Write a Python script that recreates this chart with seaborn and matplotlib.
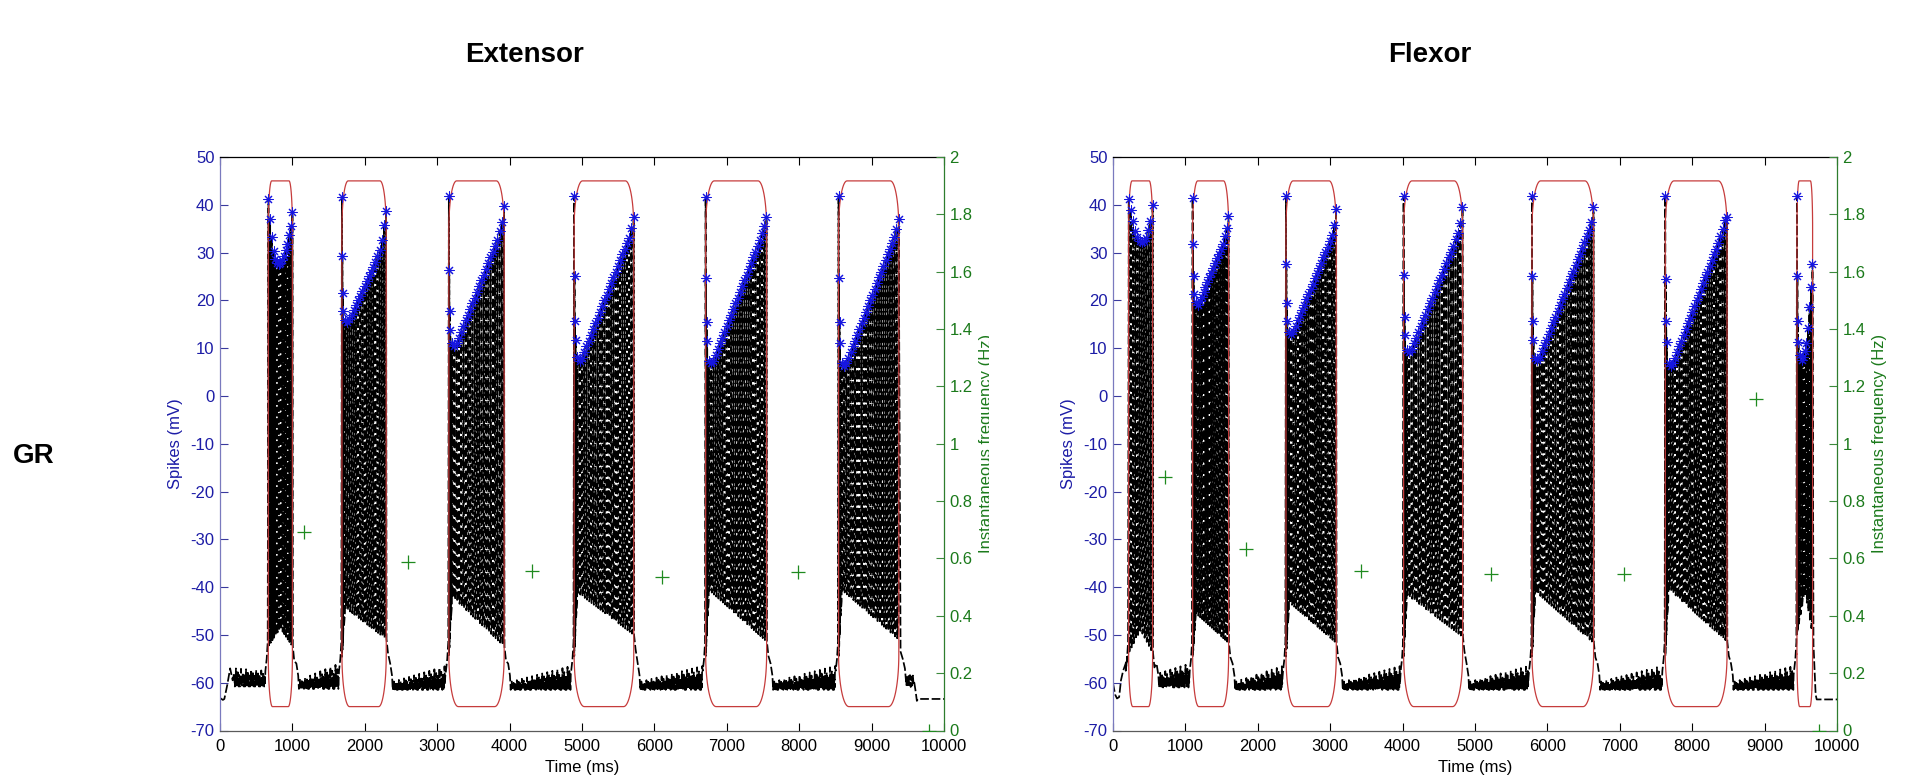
import numpy as np
import pandas as pd
import matplotlib
matplotlib.use("Agg")
import matplotlib.pyplot as plt
import seaborn as sns
from matplotlib.transforms import Bbox, TransformedBbox

sns.set_theme(style="white")
plt.rcParams['font.family'] = ['Liberation Sans', 'DejaVu Sans']

# ---------------- axes ticks ----------------
time_ticks = list(range(0, 10001, 1000))
mv_ticks = list(range(-70, 51, 10))
hz_ticks = [0.0, 0.2, 0.4, 0.6, 0.8, 1.0, 1.2, 1.4, 1.6, 1.8, 2.0]
hz_tick_labels = ['0', '0.2', '0.4', '0.6', '0.8', '1', '1.2', '1.4', '1.6', '1.8', '2']

# ---------------- Extensor ----------------
ext_onsets = [667, 1684, 3161, 4891, 6708, 8544]
ext_offsets = [1000, 2296, 3925, 5715, 7550, 9376]
ext_quick = [1, 4, 4, 4, 4, 4]          # spikes in the opening high-frequency cluster
ext_dome = [True, False, False, False, False, False]
ext_peaks = [
    [41.2, 37.0, 33.2, 30.4, 28.6, 27.9, 27.7, 27.9, 28.4, 29.3, 30.5, 31.8, 33.7, 35.6, 38.4],
    [41.6, 29.3, 21.5, 17.7, 15.8, 15.4, 16.0, 17.0, 18.0, 19.0, 20.0, 21.0, 22.0, 23.0,
     24.0, 25.0, 26.0, 27.0, 28.0, 29.2, 30.6, 32.7, 35.8, 38.8],
    [41.9, 26.4, 17.8, 13.9, 11.0, 10.4, 11.0, 12.2, 13.4, 14.6, 15.8, 17.0, 18.2, 19.4,
     20.6, 21.8, 23.0, 24.2, 25.4, 26.6, 27.8, 29.0, 30.2, 31.4, 32.7, 34.6, 36.5, 39.7],
    [41.8, 25.2, 15.7, 11.8, 8.2, 7.4, 8.0, 9.2, 10.4, 11.6, 12.8, 14.0, 15.2, 16.4, 17.6,
     18.8, 20.0, 21.2, 22.4, 23.6, 24.8, 26.0, 27.2, 28.4, 29.6, 30.8, 32.0, 33.0, 35.1, 37.4],
    [41.6, 24.6, 15.4, 11.4, 7.4, 6.8, 7.4, 8.6, 9.8, 11.0, 12.2, 13.4, 14.6, 15.8, 17.0,
     18.2, 19.4, 20.6, 21.8, 23.0, 24.2, 25.4, 26.6, 27.8, 29.0, 30.2, 31.4, 32.6, 34.0, 35.5, 37.5],
    [41.8, 24.6, 15.5, 11.0, 7.0, 6.2, 6.8, 8.0, 9.2, 10.4, 11.6, 12.8, 14.0, 15.2, 16.4,
     17.6, 18.8, 20.0, 21.2, 22.4, 23.6, 24.8, 26.0, 27.2, 28.4, 29.6, 30.8, 32.0, 33.3, 35.0, 37.0],
]
# trough envelope per burst: (start, top, end) in mV
ext_trough = [(-52.4, -48.6, -52.4), (-55.0, -44.3, -50.9), (-55.0, -42.0, -52.4),
              (-55.0, -41.1, -50.0), (-55.0, -40.6, -51.4), (-55.0, -40.6, -51.0)]
# resting band before each burst: (floor, ceiling at start, ceiling at end)
ext_rest = [(-60.8, -57.0, -57.5), (-61.3, -59.5, -56.0), (-61.5, -59.8, -56.5),
            (-61.5, -59.8, -56.5), (-61.5, -59.8, -56.5), (-61.5, -59.8, -56.5)]
ext_lead_t = [0, 40, 60, 100, 140, 175, 195]
ext_lead_v = [-63.2, -63.6, -63.4, -60.5, -57.0, -59.5, -58.0]
ext_tail_t = [9400, 9430, 9460, 9480, 9490, 9500, 9510, 9520, 9530, 9540, 9550, 9560,
              9570, 9580, 9590, 9610, 9625, 9640, 10000]
ext_tail_v = [-53.5, -55.0, -57.0, -60.5, -58.5, -60.8, -58.6, -60.5, -58.4, -60.9, -58.7,
              -60.6, -58.5, -60.4, -60.0, -62.0, -63.8, -63.4, -63.4]
ext_freq_t = [1164, 2600, 4311, 6105, 7982, 9790]
ext_freq_hz = [0.693, 0.589, 0.556, 0.536, 0.554, 0.0]

# ---------------- Flexor ----------------
flx_onsets = [216, 1100, 2389, 4014, 5787, 7628, 9447]
flx_offsets = [547, 1597, 3084, 4829, 6638, 8481, 9663]
flx_quick = [1, 4, 4, 4, 4, 4, 4]
flx_dome = [True, False, False, False, False, False, True]
flx_peaks = [
    [41.3, 39.0, 36.7, 34.6, 33.2, 32.5, 32.3, 32.4, 33.0, 34.8, 36.7, 40.0],
    [41.4, 31.9, 25.0, 21.4, 19.6, 19.1, 19.8, 20.8, 21.8, 22.8, 23.8, 24.8, 25.8, 26.8,
     27.8, 28.8, 29.8, 30.8, 31.8, 33.4, 35.1, 37.6],
    [41.8, 27.6, 19.4, 15.6, 13.4, 13.0, 13.6, 14.7, 15.8, 16.9, 18.0, 19.1, 20.2, 21.3,
     22.4, 23.5, 24.6, 25.7, 26.8, 27.9, 29.0, 30.1, 31.2, 32.4, 33.7, 35.8, 39.1],
    [41.8, 25.4, 16.6, 12.8, 9.6, 9.2, 9.8, 11.0, 12.2, 13.4, 14.6, 15.8, 17.0, 18.2, 19.4,
     20.6, 21.8, 23.0, 24.2, 25.4, 26.6, 27.8, 29.0, 30.2, 31.4, 32.8, 34.1, 36.2, 39.5],
    [41.9, 25.2, 15.7, 11.8, 8.0, 7.6, 8.2, 9.4, 10.6, 11.8, 13.0, 14.2, 15.4, 16.6, 17.8,
     19.0, 20.2, 21.4, 22.6, 23.8, 25.0, 26.2, 27.4, 28.6, 29.8, 31.0, 32.2, 33.5, 34.8, 36.3, 39.5],
    [41.8, 24.5, 15.6, 11.2, 6.8, 6.2, 6.8, 8.0, 9.2, 10.4, 11.6, 12.8, 14.0, 15.2, 16.4,
     17.6, 18.8, 20.0, 21.2, 22.4, 23.6, 24.8, 26.0, 27.2, 28.4, 29.6, 30.8, 32.0, 33.4, 34.9, 36.9, 37.4],
    [41.8, 25.0, 15.6, 11.3, 8.6, 7.6, 8.2, 9.5, 11.0, 14.2, 18.6, 22.9, 27.7],
]
flx_trough = [(-53.8, -49.0, -53.8), (-55.0, -45.5, -51.7), (-55.0, -43.2, -51.7),
              (-55.0, -41.6, -50.4), (-55.0, -40.9, -51.7), (-55.0, -40.4, -51.4),
              (-50.0, -40.9, -50.0)]
flx_rest = [None, (-61.0, -58.0, -56.0), (-61.5, -59.8, -56.5), (-61.5, -59.8, -56.5),
            (-61.5, -59.8, -56.5), (-61.5, -59.8, -56.5), (-61.5, -59.8, -56.5)]
flx_lead_t = [0, 30, 55, 85, 110, 140, 175, 200]
flx_lead_v = [-60.1, -62.5, -63.3, -63.0, -59.5, -57.5, -56.0, -54.5]
flx_tail_t = [9675, 9690, 9705, 9720, 10000]
flx_tail_v = [-52.0, -57.0, -62.5, -63.5, -63.5]
flx_freq_t = [713, 1837, 3430, 5225, 7053, 8885, 9755]
flx_freq_hz = [0.883, 0.632, 0.557, 0.545, 0.546, 1.156, 0.0]

# irregular subthreshold ripple between bursts, as a fraction of the band height
rest_ripple = [0.0, 0.45, 0.1, 1.0, 0.25, 0.55, 0.05, 0.35, 0.8, 0.15, 0.5, 0.0, 0.65, 0.2]

BOX_TOP, BOX_BOTTOM = 45.0, -65.0

BLUE = '#1616e0'
BLUE_TXT = '#1c1ca6'
GREEN = '#1f8a1f'
GREEN_TXT = '#1b7a1b'
RED = '#c63c3c'


def spike_times(onset, offset, n, quick):
    if quick > 1:
        head = onset + np.array([0, 6, 13, 21][:quick], dtype=float)
        rest = np.linspace(onset + 45, offset - 2, n - quick)
        return np.concatenate([head, rest])
    return np.linspace(onset + 2, offset, n)


def trough_value(t, onset, offset, env, dome):
    s, top, e = env
    if dome:
        return np.interp(t, [onset, (onset + offset) / 2, offset], [s, top, e])
    return np.interp(t, [onset, onset + 45, offset], [s, top, e])


def band(a, b, floor, c0, c1, step=5.0):
    t = np.arange(a, b, step)
    ceil = np.interp(t, [a, b], [c0, c1])
    frac = np.array([rest_ripple[k % len(rest_ripple)] for k in range(len(t))])
    v = floor + frac * (ceil - floor)
    return list(t), list(v)


def build_trace(onsets, offsets, peaks, quick, dome, trough, rest, lead_t, lead_v, tail_t, tail_v):
    T, V = list(lead_t), list(lead_v)
    spk_t, spk_v = [], []
    for i, (on, off) in enumerate(zip(onsets, offsets)):
        # resting band leading into this burst
        if rest[i] is not None:
            fl, c0, c1 = rest[i]
            a = T[-1] + 10
            b = on - 45
            bt, bv = band(a, b, fl, c0, c1)
            T += bt
            V += bv
        T += [on - 40, on - 22, on - 8]
        V += [-57.5, -55.0, -51.5]
        pk = np.array(peaks[i])
        ts = spike_times(on, off, len(pk), quick[i])
        spk_t += list(ts)
        spk_v += list(pk)
        for k in range(len(pk)):
            T.append(ts[k])
            V.append(pk[k])
            if k < len(pk) - 1:
                isi = ts[k + 1] - ts[k]
                tt = ts[k] + 0.3 * isi
                tv = trough_value(tt, on, off, trough[i], dome[i])
                T += [tt, ts[k + 1] - 0.12 * isi]
                V += [tv, tv + 3.0]
        # repolarisation after the burst
        end_v = trough[i][2]
        if i < len(onsets) - 1:
            T += [ts[-1] + 6, off + 25, off + 55, off + 80]
            V += [end_v, end_v - 3.0, -56.0, -58.5]
    T += list(tail_t)
    V += list(tail_v)
    return pd.DataFrame({'t': T, 'v': V}), pd.DataFrame({'t': spk_t, 'v': spk_v})


def box_outline(onset, offset, n=24):
    w = offset - onset
    rx_t, ry_t = 0.14 * w, 10.0
    rx_b, ry_b = 0.17 * w, 11.0
    th = np.linspace(0, np.pi / 2, n)
    xs, ys = [], []
    xs += [onset, onset]
    ys += [BOX_BOTTOM + ry_b, BOX_TOP - ry_t]
    xs += list(onset + rx_t - rx_t * np.cos(th))
    ys += list(BOX_TOP - ry_t + ry_t * np.sin(th))
    xs += list(offset - rx_t + rx_t * np.sin(th))
    ys += list(BOX_TOP - ry_t + ry_t * np.cos(th))
    xs += [offset]
    ys += [BOX_BOTTOM + ry_b]
    xs += list(offset - rx_b + rx_b * np.cos(th))
    ys += list(BOX_BOTTOM + ry_b - ry_b * np.sin(th))
    xs += list(onset + rx_b - rx_b * np.sin(th))
    ys += list(BOX_BOTTOM + ry_b - ry_b * np.cos(th))
    return pd.DataFrame({'t': xs, 'v': ys})


fig = plt.figure(figsize=(19.08, 7.82), dpi=100)
W, H = 1908.0, 782.0
ax_w = 724 / W
ax_h = 573.5 / H
ax_b = (H - 730.5) / H

panels = [
    (220 / W, 'Extensor', 525, ext_onsets, ext_offsets, ext_peaks, ext_quick, ext_dome, ext_trough,
     ext_rest, ext_lead_t, ext_lead_v, ext_tail_t, ext_tail_v, ext_freq_t, ext_freq_hz),
    (1113 / W, 'Flexor', 1430, flx_onsets, flx_offsets, flx_peaks, flx_quick, flx_dome, flx_trough,
     flx_rest, flx_lead_t, flx_lead_v, flx_tail_t, flx_tail_v, flx_freq_t, flx_freq_hz),
]

for pi, (left, title, title_x, onsets, offsets, peaks, quick, dome, trough, rest,
         lead_t, lead_v, tail_t, tail_v, fr_t, fr_hz) in enumerate(panels):
    ax = fig.add_axes([left, ax_b, ax_w, ax_h])
    ax.set_facecolor('white')
    trace, spikes = build_trace(onsets, offsets, peaks, quick, dome, trough, rest,
                                lead_t, lead_v, tail_t, tail_v)

    sns.lineplot(data=trace, x='t', y='v', sort=False, estimator=None, ax=ax,
                 color='black', linewidth=1.25, dashes=False, zorder=2)
    ax.lines[-1].set_dashes((5, 1.6))
    for on, off in zip(onsets, offsets):
        sns.lineplot(data=box_outline(on, off), x='t', y='v', sort=False, estimator=None,
                     ax=ax, color=RED, linewidth=0.9, zorder=3)
    sns.scatterplot(data=spikes, x='t', y='v', ax=ax, marker=(8, 2, 0), s=44,
                    color=BLUE, linewidth=0.75, zorder=4)

    ax.set_xlim(0, 10000)
    ax.set_ylim(-70, 50)
    ax.set_xticks(time_ticks)
    ax.set_xticklabels([str(t) for t in time_ticks])
    ax.set_yticks(mv_ticks)
    ax.set_yticklabels([str(v) for v in mv_ticks])
    ax.set_xlabel('')
    ax.set_ylabel('')
    ax.tick_params(axis='x', direction='in', length=6, width=0.8, top=True, bottom=True,
                   colors='black', labelsize=12, pad=6)
    ax.tick_params(axis='y', direction='in', length=6, width=0.8, left=True, right=True,
                   color='#3a3a9e', labelcolor=BLUE_TXT, labelsize=12, pad=4)
    ax.spines['left'].set_color('#7a7abe')
    ax.spines['bottom'].set_color('#5a5a5a')
    ax.spines['top'].set_color('black')
    ax.spines['right'].set_visible(False)
    for s in ax.spines.values():
        s.set_linewidth(0.9)

    ax2 = ax.twinx()
    ax2.set_ylim(0, 2)
    ax2.set_yticks(hz_ticks)
    ax2.set_yticklabels(hz_tick_labels)
    freq = pd.DataFrame({'t': fr_t, 'hz': fr_hz})
    sns.scatterplot(data=freq, x='t', y='hz', ax=ax2, marker='+', s=90,
                    color=GREEN, linewidth=0.9, zorder=5)
    ax2.set_xlim(0, 10000)
    ax2.set_ylabel('')
    ax2.set_xlabel('')
    ax2.tick_params(axis='y', direction='in', length=6, width=0.8, color='#3c8a3c',
                    labelcolor=GREEN_TXT, labelsize=12, pad=4)
    for side in ('left', 'top', 'bottom'):
        ax2.spines[side].set_visible(False)
    ax2.spines['right'].set_color('#2e7d2e')
    ax2.spines['right'].set_linewidth(0.9)

    ax.text(-0.0608, 0.5, 'Spikes (mV)', transform=ax.transAxes, rotation=90,
            ha='center', va='center', fontsize=12, color=BLUE_TXT)
    lab = ax2.text(1.059, 0.5, 'Instantaneous frequency (Hz)', transform=ax2.transAxes,
                   rotation=90, ha='center', va='center', fontsize=12, color=GREEN_TXT)
    if pi == 0:
        lab.set_clip_on(True)
        lab.set_clip_box(TransformedBbox(Bbox([[0, 0], [989 / W, 1]]), fig.transFigure))
    ax.text(0.5, -0.064, 'Time (ms)', transform=ax.transAxes, ha='center', va='center',
            fontsize=12, color='black')

    fig.text(title_x / W, 1 - 55 / H, title, ha='center', va='center',
             fontsize=20, fontweight='bold', color='black')

fig.text(34 / W, 1 - 456 / H, 'GR', ha='center', va='center', fontsize=20,
         fontweight='bold', color='black')

fig.savefig('out.png', dpi=100)
